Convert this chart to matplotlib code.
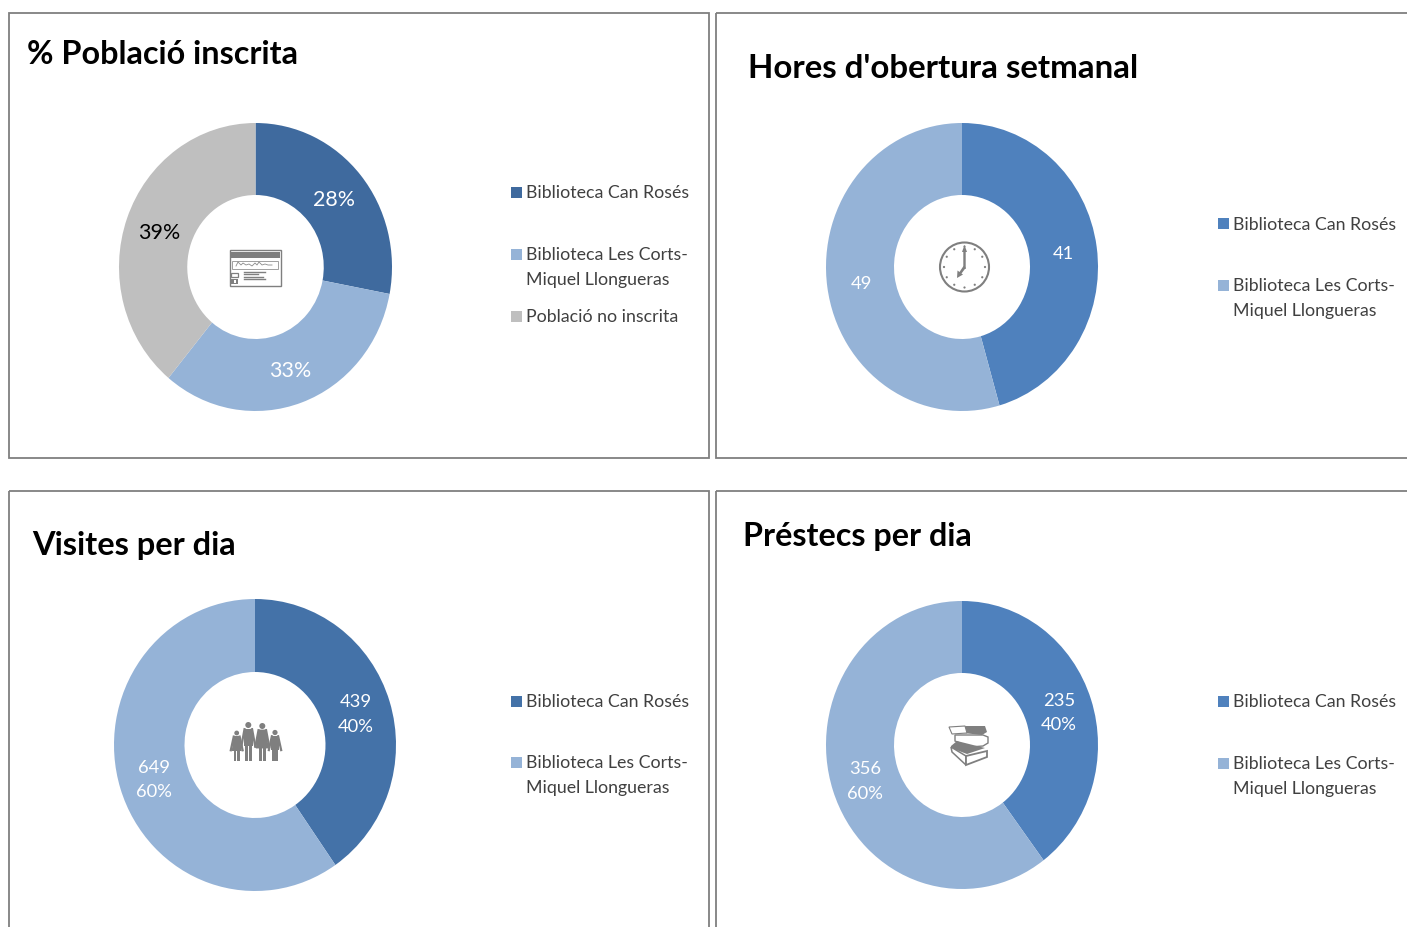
"""Quatre anells de dades de les biblioteques."""

import matplotlib

matplotlib.use("Agg")

import matplotlib.pyplot as plt
import numpy as np
from matplotlib.patches import Circle, Polygon, Rectangle

plt.rcParams["font.family"] = ["Lato", "DejaVu Sans"]

AMPLE = 1407
ALT = 928

CAN_ROSES = "Biblioteca Can Rosés"
LES_CORTS = "Biblioteca Les Corts-\nMiquel Llongueras"
NO_INSCRITA = "Població no inscrita"

poblacio_valors = [28, 33, 39]
poblacio_etiquetes = ["28%", "33%", "39%"]
hores_valors = [41, 49]
hores_etiquetes = ["41", "49"]
visites_valors = [439, 649]
visites_etiquetes = ["439\n40%", "649\n60%"]
prestecs_valors = [235, 356]
prestecs_etiquetes = ["235\n40%", "356\n60%"]

BLAU_FOSC = "#3F6A9E"
BLAU_MIG = "#4F81BD"
BLAU_VISITES = "#4472A8"
BLAU_CLAR = "#95B3D7"
GRIS = "#BFBFBF"
GRIS_ICONA = "#7F7F7F"
VORA = "#7F7F7F"
TEXT = "#404040"


def pixels_a_fig(x0, y0, x1, y1):
    return [x0 / AMPLE, 1 - y1 / ALT, (x1 - x0) / AMPLE, (y1 - y0) / ALT]


def anell(fig, caixa, valors, etiquetes, colors, colors_text, mida=13.2):
    ax = fig.add_axes(pixels_a_fig(*caixa))
    fets = iter(etiquetes)
    _, _, textos = ax.pie(
        valors,
        colors=colors,
        startangle=90,
        counterclock=False,
        radius=1,
        pctdistance=0.75,
        autopct=lambda _: next(fets),
        wedgeprops={"width": 0.5, "linewidth": 0},
        textprops={"fontsize": mida, "linespacing": 1.65},
    )
    for text, color in zip(textos, colors_text):
        text.set_color(color)
        # les etiquetes de l'original queden un pèl més avall
        text.set_y(text.get_position()[1] - 0.008)
    ax.set_aspect("auto")
    ax.set_xlim(-1, 1)
    ax.set_ylim(-1, 1)
    ax.axis("off")


def llegenda(ax, x, entrades):
    for y, color, nom in entrades:
        ax.add_patch(Rectangle((x, y - 5.5), 11, 11, color=color, lw=0))
        ax.text(x + 15.3, y - 7.5, nom, fontsize=12.75, color=TEXT, va="top", linespacing=1.68)


def icona_carnet(ax):
    ax.add_patch(Rectangle((229.5, 250.5), 51, 36, fc="white", ec=GRIS_ICONA, lw=1))
    ax.add_patch(Rectangle((230, 253), 50, 6, color=GRIS_ICONA, lw=0))
    ax.add_patch(Rectangle((232, 261.5), 46, 8.5, fc="white", ec="#A0A0A0", lw=0.7))
    signatura_x = [236, 238, 241, 243, 246, 249, 252, 255, 257, 259, 262, 265, 268, 272]
    signatura_y = [267, 263, 266, 264, 266, 265, 267, 264, 266, 263, 266, 265, 266, 266]
    ax.plot(signatura_x, signatura_y, color="#8A8A8A", lw=0.6)
    ax.add_patch(Rectangle((231, 274), 7, 4, fc="white", ec=GRIS_ICONA, lw=0.9))
    ax.add_patch(Rectangle((231, 280), 7, 5, color=GRIS_ICONA, lw=0))
    ax.add_patch(Rectangle((234, 281), 1.5, 3, color="white", lw=0))
    for y, x_fi in [(272.5, 265), (275, 258), (277.5, 263), (279.5, 265)]:
        ax.plot([244, x_fi], [y, y], color=GRIS_ICONA, lw=1)


def icona_rellotge(ax):
    cx, cy = 964.5, 268
    ax.add_patch(Circle((cx, cy), 24.5, fc="white", ec=GRIS_ICONA, lw=1.5))
    for angle in np.arange(0, 360, 30):
        x = cx + 20.5 * np.sin(np.radians(angle))
        y = cy - 20.5 * np.cos(np.radians(angle))
        ax.add_patch(Circle((x, y), 1.1, color=GRIS_ICONA, lw=0))
    ax.add_patch(Polygon([(cx, 246), (cx + 2.5, 253), (cx + 1.2, 253), (cx + 1.2, 270), (cx - 1.2, 270), (cx - 1.2, 253), (cx - 2.5, 253)], color=GRIS_ICONA, lw=0))
    ax.add_patch(Polygon([(957, 279), (957.5, 271.5), (959.5, 273), (963.5, 267), (965.8, 268.8), (961.5, 274.5), (963, 275.5)], color=GRIS_ICONA, lw=0))


def persona(ax, x, y_cap, r_cap, amplada, y_peus, faldilla, ample_cames):
    ax.add_patch(Circle((x, y_cap), r_cap, color=GRIS_ICONA, lw=0))
    y_espatlla = y_cap + r_cap + 0.6
    y_cintura = y_espatlla + (y_peus - y_espatlla) * 0.45
    if faldilla:
        y_fald = y_espatlla + (y_peus - y_espatlla) * 0.6
        punts = [
            (x - amplada * 0.4, y_espatlla),
            (x + amplada * 0.4, y_espatlla),
            (x + amplada * 0.72, y_fald),
            (x - amplada * 0.72, y_fald),
        ]
    else:
        y_fald = y_cintura
        punts = [
            (x - amplada / 2, y_espatlla),
            (x + amplada / 2, y_espatlla),
            (x + amplada / 2, y_cintura + 3),
            (x - amplada / 2, y_cintura + 3),
        ]
    ax.add_patch(Polygon(punts, color=GRIS_ICONA, lw=0))
    for costat in (-1, 1):
        centre = x + costat * (ample_cames / 2 + 0.4)
        ax.add_patch(Rectangle((centre - ample_cames / 2, y_fald), ample_cames, y_peus - y_fald, color=GRIS_ICONA, lw=0))
        ax.plot(
            [x + costat * amplada * 0.42, x + costat * (amplada * 0.5 + 2.4)],
            [y_espatlla + 0.6, y_cintura + 3],
            color=GRIS_ICONA,
            lw=1.6,
        )


def icona_familia(ax):
    persona(ax, 236.7, 734, 2.4, 7, 762, True, 2.4)
    persona(ax, 248.3, 726, 3, 9, 762, False, 3)
    persona(ax, 262.3, 727, 3, 9, 762, True, 2.8)
    persona(ax, 275, 733.5, 2.6, 7.5, 762, False, 2.6)


def icona_llibres(ax):
    ax.add_patch(Polygon([(963, 727), (985, 727), (987, 733), (982, 736), (963, 734)], color=GRIS_ICONA, lw=0))
    ax.add_patch(Polygon([(949, 728), (965, 727), (967, 734), (952, 735)], fc="white", ec=GRIS_ICONA, lw=0.8))
    ax.add_patch(Polygon([(955, 736), (983, 736), (988, 738), (988, 744), (983, 747), (970, 748), (955, 742)], fc="white", ec=GRIS_ICONA, lw=1))
    ax.add_patch(Polygon([(951, 747), (957, 742), (985, 749), (967, 755), (951, 749)], color=GRIS_ICONA, lw=0))
    ax.add_patch(Polygon([(951, 748), (966, 757), (966, 766), (952, 753)], fc="white", ec=GRIS_ICONA, lw=1.1))
    ax.add_patch(Polygon([(966, 757), (987, 752), (987, 758), (966, 766)], fc="white", ec=GRIS_ICONA, lw=1.3))


fig = plt.figure(figsize=(AMPLE / 100, ALT / 100), dpi=100, facecolor="white")

anell(fig, (119, 124, 392, 412), poblacio_valors, poblacio_etiquetes, [BLAU_FOSC, BLAU_CLAR, GRIS], ["white", "white", "black"], mida=15.4)
anell(fig, (826, 124, 1098, 412), hores_valors, hores_etiquetes, [BLAU_MIG, BLAU_CLAR], ["white", "white"])
anell(fig, (114, 600, 396, 892), visites_valors, visites_etiquetes, [BLAU_VISITES, BLAU_CLAR], ["white", "white"])
anell(fig, (826, 602, 1098, 890), prestecs_valors, prestecs_etiquetes, [BLAU_MIG, BLAU_CLAR], ["white", "white"])

capa = fig.add_axes([0, 0, 1, 1], facecolor="none")
capa.set_xlim(0, AMPLE)
capa.set_ylim(ALT, 0)
capa.axis("off")

for x0, y0, x1, y1 in [(9, 14, 709, 459), (716, 14, 1420, 459), (9, 492, 709, 945), (716, 492, 1420, 945)]:
    capa.add_patch(Rectangle((x0, y0), x1 - x0, y1 - y0, fc="none", ec=VORA, lw=1.3))

for x, y, titol, mida in [
    (27, 54, "% Població inscrita", 23.3),
    (748, 69, "Hores d'obertura setmanal", 23.75),
    (32, 546, "Visites per dia", 23.4),
    (743, 537, "Préstecs per dia", 23.2),
]:
    capa.text(x, y, titol, fontsize=mida, fontweight="bold", color="black", va="center")

llegenda(capa, 511, [(193, BLAU_FOSC, CAN_ROSES), (255, BLAU_CLAR, LES_CORTS), (317, GRIS, NO_INSCRITA)])
llegenda(capa, 1218, [(224, BLAU_MIG, CAN_ROSES), (286, BLAU_CLAR, LES_CORTS)])
llegenda(capa, 511, [(702, BLAU_VISITES, CAN_ROSES), (763, BLAU_CLAR, LES_CORTS)])
llegenda(capa, 1218, [(702, BLAU_MIG, CAN_ROSES), (764, BLAU_CLAR, LES_CORTS)])

icona_carnet(capa)
icona_rellotge(capa)
icona_familia(capa)
icona_llibres(capa)

fig.savefig("out.png", dpi=100)
